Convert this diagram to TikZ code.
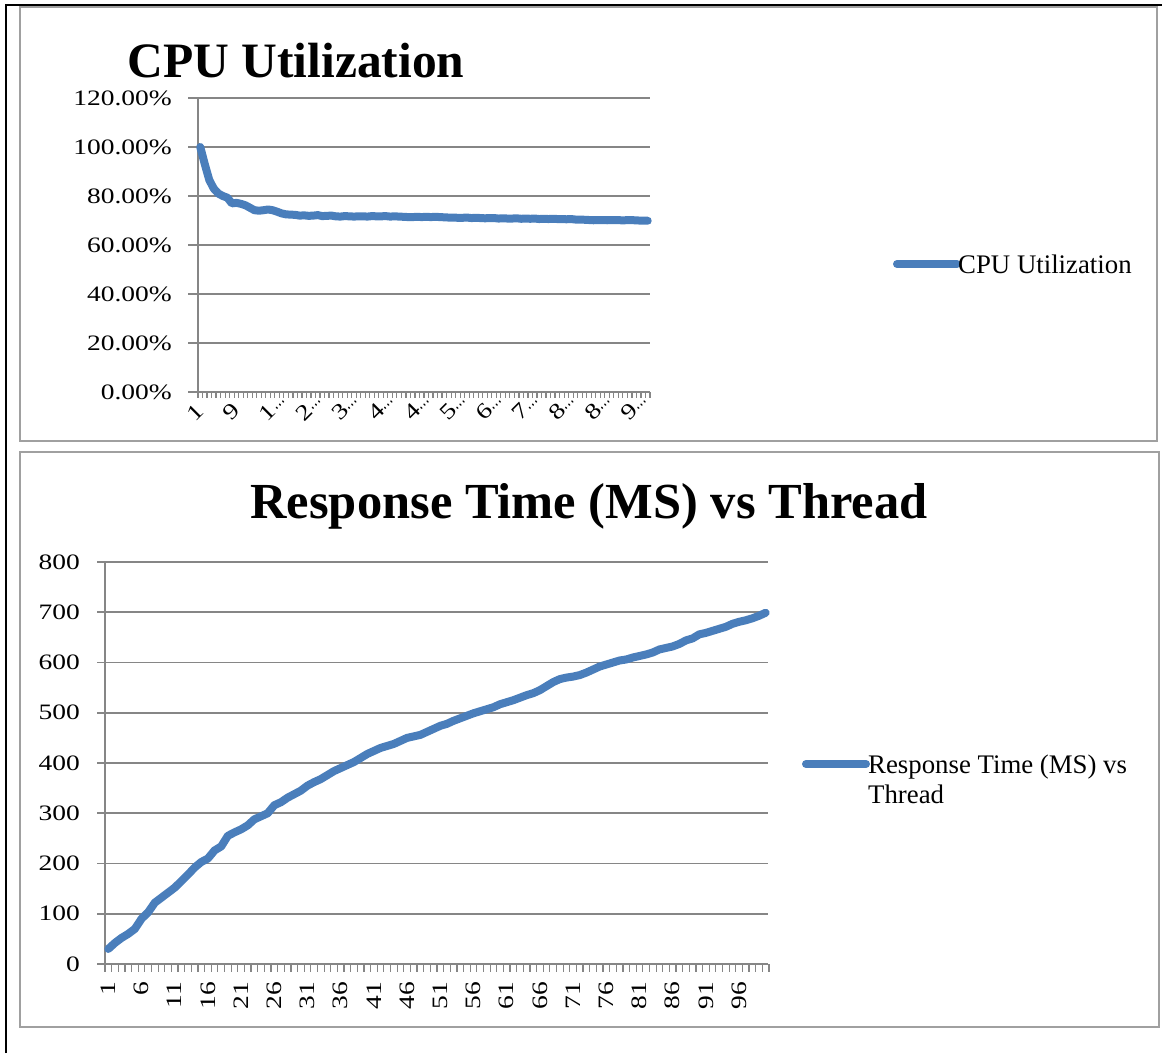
\documentclass[tikz,border=0pt]{standalone}
\usepackage{fontspec}
\setmainfont{Liberation Serif}
\newfontfamily\numfont[FakeStretch=1.25]{Liberation Serif}
\newfontfamily\dotfont[FakeStretch=0.6]{Liberation Serif}
\definecolor{serieblue}{RGB}{74,126,187}
\definecolor{gridgray}{RGB}{134,134,134}
\definecolor{framegray}{RGB}{160,160,160}
\tikzset{
  outerline/.style={black, line width=2.5pt},
  chartframe/.style={framegray, line width=2.5pt},
  gridline/.style={gridgray, line width=1.8pt},
  axisline/.style={gridgray, line width=1.8pt},
  ticktick/.style={gridgray, line width=1.2pt},
  series/.style={serieblue, line width=8pt, line cap=round, line join=round},
  charttitle/.style={font=\fontsize{49.5}{58}\selectfont\bfseries, anchor=base, inner sep=0pt},
  ticklabel/.style={font=\numfont\fontsize{22}{26}\selectfont, inner sep=0pt},
  legendtext/.style={font=\fontsize{26.8}{32}\selectfont, anchor=base west, inner sep=0pt},
}
% truncated category label: the digit stays on its tick, the dots run past it
\newcommand{\trunclabel}[1]{#1\rlap{\dotfont\raisebox{0.1em}{…}}}
\begin{document}
\begin{tikzpicture}[x=1pt, y=-1pt]
\useasboundingbox (0,0) rectangle (1162,1055);

% page border (black) and the two chart frames
\draw[outerline] (6,1053) -- (6,5) -- (1162,5);
\draw[chartframe] (20,7) rectangle (1157,441);
\draw[chartframe] (20,452) rectangle (1159,1027);

% ---------------- CPU utilization chart ----------------
\node[charttitle] (cputitle) at (296,77) {CPU Utilization};
\foreach \k/\lab in {0/0.00\%,1/20.00\%,2/40.00\%,3/60.00\%,4/80.00\%,5/100.00\%,6/120.00\%}{
  \draw[gridline] (188,{392-49*\k}) -- (650,{392-49*\k});
  \node[ticklabel, anchor=east] (cpuy\k) at (172,{392-49*\k}) {\lab};
}
\draw[axisline] (198,98) -- (198,392);
\foreach \k in {0,...,100}{
  \draw[ticktick] ({198+4.52*\k},392) -- ({198+4.52*\k},398);
}
\foreach \n/\lab in {1/1,9/9}{
  \node[ticklabel, anchor=east, rotate=45] (cpux\n) at ({198+4.52*(\n-0.5)},407) {\lab};
}
\foreach \n/\lab in {17/1,25/2,33/3,41/4,49/4,57/5,65/6,73/7,81/8,89/8,97/9}{
  \node[ticklabel, anchor=east, rotate=45] (cpux\n) at ({198+4.52*(\n-0.5)},407) {\trunclabel{\lab}};
}
\draw[series] ({198+4.52*0.5},{392-2.45*100})
  \foreach \v [count=\i from 2] in {93,86.5,83,81,80,79.3,77,77.2,76.8,
    76.2,75.2,74.2,74,74.2,74.5,74.2,73.6,72.9,72.5,
    72.4,72.3,72.0,72.1,71.9,72.0,72.2,71.8,71.9,72.0,
    71.7,71.6,71.8,71.7,71.6,71.7,71.7,71.6,71.8,71.7,
    71.7,71.8,71.6,71.7,71.6,71.5,71.4,71.4,71.5,71.4,
    71.5,71.4,71.5,71.4,71.3,71.2,71.2,71.1,71.1,71.2,
    71.0,71.1,71.0,70.9,71.0,71.0,70.8,70.9,70.8,70.8,
    70.9,70.7,70.8,70.7,70.8,70.6,70.7,70.6,70.7,70.6,
    70.6,70.5,70.6,70.4,70.4,70.3,70.2,70.1,70.2,70.2,
    70.1,70.2,70.2,70.1,70.1,70.2,70.1,70.0,70.0,69.9}
  { -- ({198+4.52*(\i-0.5)},{392-2.45*\v}) };
\coordinate (cpuleg1) at (897,264);
\coordinate (cpuleg2) at (957,264);
\draw[series] (cpuleg1) -- (cpuleg2);
\node[legendtext] (cpulegtext) at (958,273) {CPU Utilization};

% ---------------- Response time chart ----------------
\node[charttitle, font=\fontsize{50.5}{58}\selectfont\bfseries] (rttitle) at (589,518) {Response Time (MS) vs Thread};
\foreach \k in {0,...,8}{
  \draw[gridline] (97,{964-50.25*\k}) -- (768,{964-50.25*\k});
  \pgfmathtruncatemacro{\val}{100*\k}
  \node[ticklabel, anchor=east] (rty\k) at (80,{964-50.25*\k}) {\val};
}
\draw[axisline] (105,562) -- (105,964);
\foreach \k in {0,...,100}{
  \draw[ticktick] ({105+6.64*\k},964) -- ({105+6.64*\k},972);
}
\foreach \n in {1,6,...,96}{
  \node[ticklabel, anchor=east, rotate=90] (rtx\n) at ({105+6.64*(\n-0.5)},982) {\n};
}
\draw[series] ({105+6.64*0.5},{964-0.5025*30})
  \foreach \v [count=\i from 2] in {42,52,60,70,90,103,122,132,142,
    152,165,178,192,203,210,226,234,255,262,
    268,276,288,294,300,316,322,331,338,345,
    355,362,368,376,384,390,396,402,410,418,
    424,430,434,438,444,450,453,456,462,468,
    474,478,484,489,494,499,503,507,511,517,
    521,525,530,535,539,545,553,561,567,570,
    572,575,580,586,592,596,600,604,606,610,
    613,616,620,626,629,632,637,644,648,656,
    659,663,667,671,677,681,684,688,693,699}
  { -- ({105+6.64*(\i-0.5)},{964-0.5025*\v}) };
\coordinate (rtleg1) at (806,764);
\coordinate (rtleg2) at (866,764);
\draw[series] (rtleg1) -- (rtleg2);
\node[legendtext] (rtlegtext1) at (868,773) {Response Time (MS) vs};
\node[legendtext] (rtlegtext2) at (868,803) {Thread};
\end{tikzpicture}
\end{document}
